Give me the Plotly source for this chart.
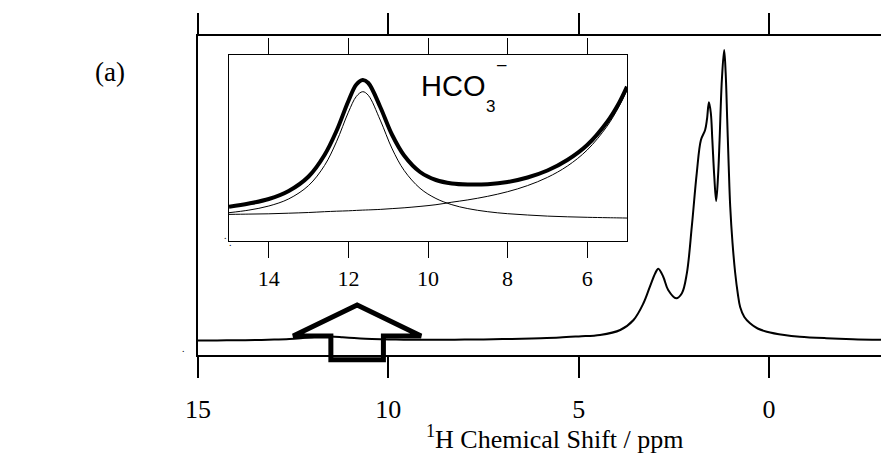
import plotly.graph_objects as go

# ---------------- data ----------------
# main 1H spectrum: chemical shift (ppm) and intensity (arb. units)
main_ppm = [15.0, 14.5, 14.0, 13.5, 13.0, 12.6, 12.3, 12.0, 11.8, 11.64, 11.5, 11.2, 10.9,
            10.6, 10.2, 9.8, 9.4, 9.0, 8.5, 8.0, 7.5, 7.0, 6.5, 6.0, 5.5, 5.0, 4.44, 3.91,
            3.56, 3.30, 3.13, 2.99, 2.91, 2.78, 2.65, 2.44, 2.29, 2.16, 2.03, 1.90, 1.79,
            1.68, 1.63, 1.58, 1.53, 1.49, 1.44, 1.39, 1.34, 1.30, 1.24, 1.18, 1.14, 1.10,
            1.06, 1.02, 0.96, 0.89, 0.82, 0.76, 0.65, 0.50, 0.30, 0.06, -0.40, -0.81,
            -1.50, -2.20, -2.94]
main_int = [0.5, 0.6, 0.7, 1.0, 1.4, 2.0, 2.8, 3.8, 4.4, 4.7, 4.6, 3.8, 2.9,
            2.2, 1.7, 1.4, 1.3, 1.3, 1.3, 1.4, 1.6, 1.9, 2.3, 2.8, 3.5, 4.6, 6.0, 11.0,
            21.0, 37.7, 54.3, 67.7, 72.3, 64.3, 51.0, 42.7, 47.7, 67.7, 114.3, 167.7, 201.0,
            211.0, 222.0, 238.7, 228.0, 201.0, 165.0, 140.0, 165.0, 201.0, 261.0, 291.0, 268.0, 222.0,
            175.0, 134.0, 98.0, 68.0, 47.0, 34.0, 24.0, 17.7, 12.5, 9.3, 6.0, 4.3,
            2.8, 1.8, 1.2]

# inset (expanded 15-5 ppm region)
inset_ppm = [15.0, 14.5, 14.0, 13.5, 13.0, 12.6, 12.3, 12.0, 11.8, 11.64, 11.5, 11.2, 10.9,
             10.6, 10.2, 9.8, 9.4, 9.0, 8.5, 8.0, 7.5, 7.0, 6.5, 6.0, 5.5, 5.2, 5.0]
inset_data = [13.3, 16.5, 21.0, 29.0, 43.5, 65.0, 89.0, 119.0, 135.5, 140.0, 137.0, 113.0, 85.0,
              64.5, 48.0, 40.0, 36.5, 35.5, 35.8, 38.0, 42.5, 49.5, 60.0, 75.0, 98.0, 117.0, 133.3]
inset_hco3 = [7.3, 9.9, 14.0, 21.1, 34.5, 54.5, 78.2, 107.8, 123.6, 128.3, 124.7, 99.9, 71.1,
              49.6, 31.7, 21.5, 15.3, 11.4, 8.3, 6.3, 5.0, 3.9, 3.2, 2.7, 2.3, 2.1, 1.95]
inset_broad = [5.6, 5.9, 6.2, 6.8, 7.5, 8.3, 8.8, 9.2, 9.6, 9.9, 10.1, 10.6, 11.4,
               12.2, 13.6, 15.3, 17.8, 20.1, 23.7, 28.3, 34.4, 42.6, 53.9, 70.0, 93.8, 113.6, 130.0]

main_ticks = [15, 10, 5, 0]
inset_ticks = [14, 12, 10, 8, 6]

# block arrow pointing at the HCO3- region (ppm, intensity)
arrow_ppm = [12.50, 10.82, 9.14, 10.13, 10.13, 11.51, 11.51]
arrow_int = [5.0, 36.0, 5.0, 5.0, -18.7, -18.7, 5.0]

# ---------------- layout constants ----------------
W, H = 881, 462
L, R, T, B = 198, 0, 36, 107
MAIN_X = [15, -2.94]
MAIN_Y = [-14, 305]
PW, PH = W - L - R, H - T - B

def px_to_paper(px, py):
    return (px - L) / PW, (H - B - py) / PH

def data_to_paper(xv, yv):
    fx = (xv - MAIN_X[0]) / (MAIN_X[1] - MAIN_X[0])
    fy = (yv - MAIN_Y[0]) / (MAIN_Y[1] - MAIN_Y[0])
    return fx, fy

fig = go.Figure()

fig.add_trace(go.Scatter(x=main_ppm, y=main_int, mode="lines", line_shape="spline",
                         line=dict(color="black", width=2), xaxis="x", yaxis="y",
                         showlegend=False, hoverinfo="skip"))

fig.add_trace(go.Scatter(x=inset_ppm, y=inset_broad, mode="lines", line_shape="spline",
                         line=dict(color="black", width=1), xaxis="x2", yaxis="y2",
                         showlegend=False, hoverinfo="skip"))
fig.add_trace(go.Scatter(x=inset_ppm, y=inset_hco3, mode="lines", line_shape="spline",
                         line=dict(color="black", width=1), xaxis="x2", yaxis="y2",
                         showlegend=False, hoverinfo="skip"))
fig.add_trace(go.Scatter(x=inset_ppm, y=inset_data, mode="lines", line_shape="spline",
                         line=dict(color="black", width=4), xaxis="x2", yaxis="y2",
                         showlegend=False, hoverinfo="skip"))

# inset domain in paper coordinates
ix0, iy0 = px_to_paper(229, 241)
ix1, iy1 = px_to_paper(627, 55)

serif = "Liberation Serif"
sans = "Liberation Sans"

fig.update_layout(
    width=W, height=H,
    margin=dict(l=L, r=R, t=T, b=B, pad=0),
    paper_bgcolor="white", plot_bgcolor="white",
    xaxis=dict(range=MAIN_X, domain=[0, 1], tickvals=main_ticks,
               ticktext=[str(t) for t in main_ticks],
               ticks="outside", ticklen=21, tickwidth=1.5, tickcolor="black",
               showline=True, linecolor="black", linewidth=1.5, mirror="ticks",
               showgrid=False, zeroline=False, ticklabelstandoff=9,
               tickfont=dict(family=serif, size=26, color="black")),
    yaxis=dict(range=MAIN_Y, domain=[0, 1], showticklabels=False, ticks="",
               showline=True, linecolor="black", linewidth=1.5, mirror=False,
               showgrid=False, zeroline=False),
    xaxis2=dict(range=[15, 5], domain=[ix0, ix1], anchor="y2", tickvals=inset_ticks,
                ticktext=[str(t) for t in inset_ticks],
                ticks="outside", ticklen=16, tickwidth=1, tickcolor="black",
                showline=True, linecolor="black", linewidth=1, mirror="ticks",
                showgrid=False, zeroline=False, ticklabelstandoff=2,
                tickfont=dict(family=serif, size=22, color="black")),
    yaxis2=dict(range=[-21, 165], domain=[iy0, iy1], anchor="x2", showticklabels=False,
                ticks="", showline=True, linecolor="black", linewidth=1, mirror=True,
                showgrid=False, zeroline=False),
)

# block arrow (paper refs so it may extend past the frame)
pts = [data_to_paper(a, b) for a, b in zip(arrow_ppm, arrow_int)]
path = "M " + " L ".join(f"{p[0]:.5f},{p[1]:.5f}" for p in pts) + " Z"
fig.add_shape(type="path", path=path, xref="paper", yref="paper",
              line=dict(color="black", width=5), fillcolor="rgba(0,0,0,0)")

def ann(text, px, py, size, family=serif, xanchor="center", yanchor="middle"):
    x, y = px_to_paper(px, py)
    fig.add_annotation(text=text, x=x, y=y, xref="paper", yref="paper",
                       showarrow=False, xanchor=xanchor, yanchor=yanchor,
                       font=dict(family=family, size=size, color="black"))

ann("<sup>1</sup>H Chemical Shift / ppm", 555, 437, 26)
ann("(a)", 110, 72, 27)
ann("HCO", 419, 86, 29, family=sans, xanchor="left")
ann("3", 484, 106, 17, family=sans, xanchor="left")
ann("\u2013", 502, 64, 17, family=sans)
ann(".", 183, 348, 10)
ann(".", 225, 235, 10)
ann(".", 230, 242, 10)

fig.write_html("out.html")
